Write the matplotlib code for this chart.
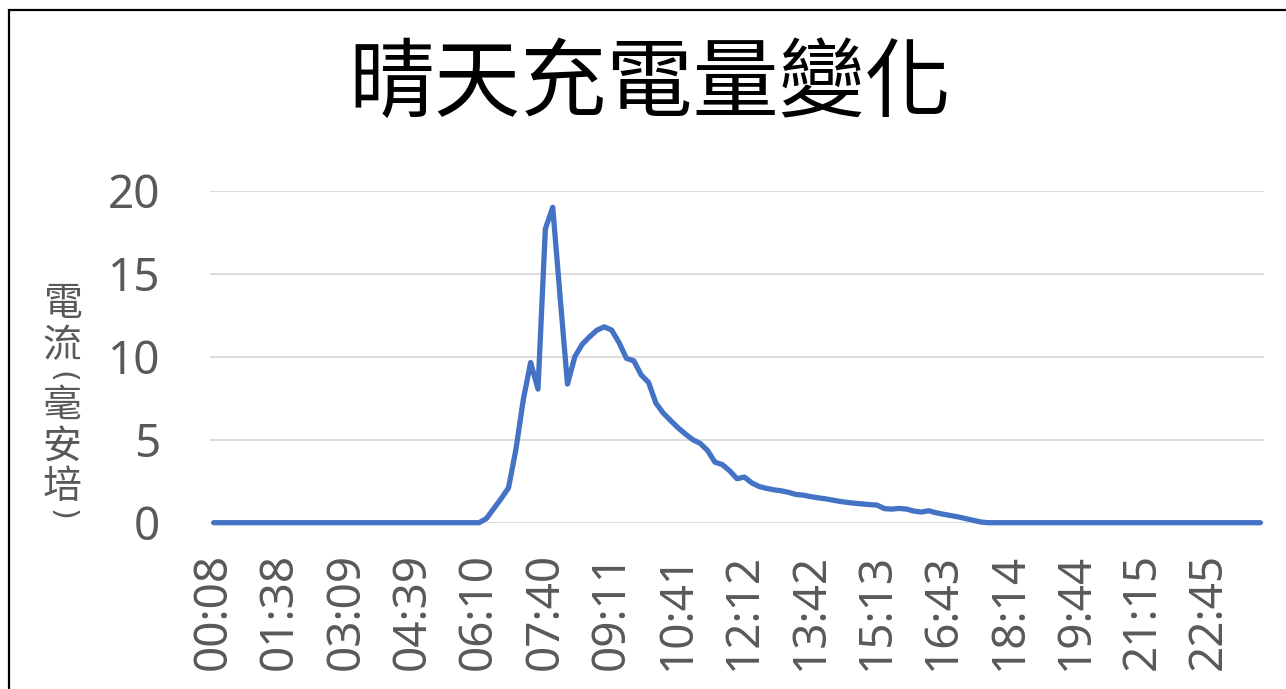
import matplotlib
matplotlib.use("Agg")
import matplotlib.pyplot as plt
from matplotlib.patches import Rectangle

# Charging current on a sunny day, one sample roughly every 10 minutes
current_ma = [
    0, 0, 0, 0, 0, 0, 0, 0, 0, 0,
    0, 0, 0, 0, 0, 0, 0, 0, 0, 0,
    0, 0, 0, 0, 0, 0, 0, 0, 0, 0,
    0, 0, 0, 0, 0, 0, 0, 0.25, 0.85, 1.45,
    2.1, 4.4, 7.4, 9.65, 8.05, 17.7, 19.0, 13.6, 8.35, 10.0,
    10.75, 11.2, 11.6, 11.8, 11.6, 10.85, 9.9, 9.75, 8.9, 8.45,
    7.2, 6.6, 6.15, 5.72, 5.34, 5.0, 4.78, 4.35, 3.65, 3.5,
    3.13, 2.65, 2.75, 2.4, 2.18, 2.07, 1.98, 1.92, 1.83, 1.7,
    1.66, 1.57, 1.5, 1.44, 1.36, 1.28, 1.22, 1.17, 1.13, 1.09,
    1.06, 0.85, 0.82, 0.86, 0.82, 0.7, 0.64, 0.72, 0.6, 0.51,
    0.43, 0.35, 0.25, 0.15, 0.05, 0, 0, 0, 0, 0,
    0, 0, 0, 0, 0, 0, 0, 0, 0, 0,
    0, 0, 0, 0, 0, 0, 0, 0, 0, 0,
    0, 0, 0, 0, 0, 0, 0, 0, 0, 0,
    0, 0, 0,
]

# Time labels shown every 9th sample
time_labels = [
    "00:08", "01:38", "03:09", "04:39", "06:10", "07:40", "09:11", "10:41",
    "12:12", "13:42", "15:13", "16:43", "18:14", "19:44", "21:15", "22:45",
]
label_step = 9

y_ticks = [0, 5, 10, 15, 20]
title = "晴天充電量變化"
y_label_chars = ["電", "流", "(", "毫", "安", "培", ")"]

W, H = 1286, 689
fig = plt.figure(figsize=(W / 100, H / 100), dpi=100)
fig.patch.set_facecolor("white")

def fx(px):
    return px / W

def fy(py):
    return 1 - py / H

ax = fig.add_axes([fx(210), fy(522.7), fx(1264) - fx(210), fy(190.7) - fy(522.7)])

x = list(range(len(current_ma)))
ax.plot(x, current_ma, color="#4472C4", lw=3.8, solid_joinstyle="round",
        solid_capstyle="round", clip_on=False, zorder=3)

ax.set_xlim(-0.5, len(current_ma) - 0.5)
ax.set_ylim(0, 20)

ax.set_yticks(y_ticks)
ax.set_yticklabels([str(v) for v in y_ticks], fontfamily="Noto Sans",
                   fontsize=33, color="#595959")
ax.yaxis.grid(True, color="#D9D9D9", lw=1.3)
ax.set_axisbelow(True)

ax.set_xticks(list(range(0, label_step * len(time_labels), label_step)))
ax.set_xticklabels(time_labels, rotation=90, fontfamily="Noto Sans",
                   fontsize=33, color="#595959")
ax.tick_params(axis="x", length=0, pad=22)
ax.tick_params(axis="y", length=0, pad=36)

for s in ax.spines.values():
    s.set_visible(False)

fig.text(fx(650), fy(86), title, ha="center", va="center",
         fontfamily=["Noto Sans CJK TC", "DejaVu Sans"], fontsize=62, color="black")

# Vertical axis title, one character per line; brackets turned sideways
y_centers = [304, 346, 377, 406, 447, 487, 515]
for ch, yc in zip(y_label_chars, y_centers):
    if ch in "()":
        fig.text(fx(62), fy(yc), ch, ha="center", va="center", rotation=-90,
                 fontfamily="DejaVu Sans", fontsize=22, color="#595959")
    else:
        fig.text(fx(62), fy(yc), ch, ha="center", va="center",
                 fontfamily=["Noto Sans CJK TC", "DejaVu Sans"], fontsize=28,
                 color="#595959")

# Chart border
fig.patches.append(Rectangle((fx(9), fy(720)), fx(1320), fy(10) - fy(720),
                             transform=fig.transFigure, fill=False,
                             edgecolor="black", lw=1.6))

fig.savefig("out.png", dpi=100, facecolor="white")
